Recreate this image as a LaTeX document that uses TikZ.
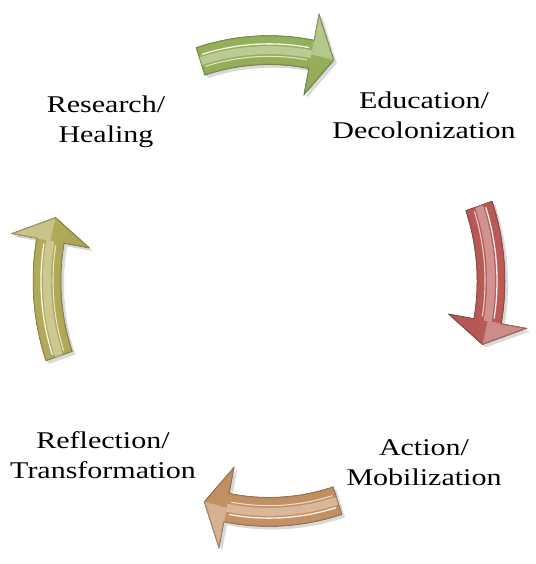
\documentclass[tikz,border=0pt]{standalone}
\usepackage{fontspec}
\setmainfont{Liberation Serif}[FakeStretch=1.25]
\usetikzlibrary{shadows}
\definecolor{cgreen}{HTML}{A5C263}
\definecolor{cred}{HTML}{CC645F}
\definecolor{ctan}{HTML}{D9A06E}
\definecolor{cyellow}{HTML}{C4BC62}
\tikzset{
	lbl/.style={align=center,inner sep=0pt,font=\fontsize{24}{30}\selectfont},
	cyclearrow/.style={draw=#1!55!black,line width=.5pt,line join=round,
		top color=#1!92!black,middle color=#1!55!white,bottom color=#1!88!black,
		drop shadow={opacity=.3,shadow xshift=3pt,shadow yshift=-3pt}},
	gloss/.style={#1!25!white,opacity=.45,line width=8pt},
}
\begin{document}
\begin{tikzpicture}[x=1pt,y=1pt]
		\useasboundingbox (0,0) rectangle (535,564);
		\coordinate (c) at (269,283);
		% the four curved arrows
		\foreach \m/\col in {90/cgreen,1/cred,-90/ctan,181/cyellow}{
			\pgfmathsetmacro\ta{\m+18}
			\pgfmathsetmacro\tb{\m-11}
			\pgfmathsetmacro\tc{\m-17}
			\pgfmathsetmacro\sa{\m-90}
			\def\arrowpath{(\ta:236) arc[start angle=\ta,end angle=\tb,radius=236pt]--(\tb:262)--(\tc:222)--(\tb:182)--(\tb:208) arc[start angle=\tb,end angle=\ta,radius=208pt]--cycle}
			\begin{scope}[shift={(c)},yscale=1.04]
				\path[cyclearrow=\col,shading angle=\sa] \arrowpath;
				\begin{scope}
					\clip \arrowpath;
					\draw[gloss=\col] (\ta+1:222) arc[start angle=\ta+1,end angle=\tb,radius=222pt];
					\fill[white,opacity=.3] (\tb:222)--(\tb:262)--(\tc:222)--cycle;
					\draw[\col!70!black,line width=2pt,opacity=.45] \arrowpath;
				\end{scope}
				\draw[white,opacity=.9,line width=1.3pt,line cap=round] (\ta-1:228) arc[start angle=\ta-1,end angle=\tb+1,radius=228pt];
				\draw[white,opacity=.7,line width=1.1pt,line cap=round] (\ta-1:216) arc[start angle=\ta-1,end angle=\tb+1,radius=216pt];
			\end{scope}
		}
		% labels
		\node[lbl] (res) at (106,442) {Research/\\Healing};
		\node[lbl] (edu) at (424,449) {Education/\\Decolonization};
		\node[lbl] (act) at (424,101) {Action/\\Mobilization};
		\node[lbl] (ref) at (103,109) {Reflection/\\Transformation};
	\end{tikzpicture}
\end{document}
